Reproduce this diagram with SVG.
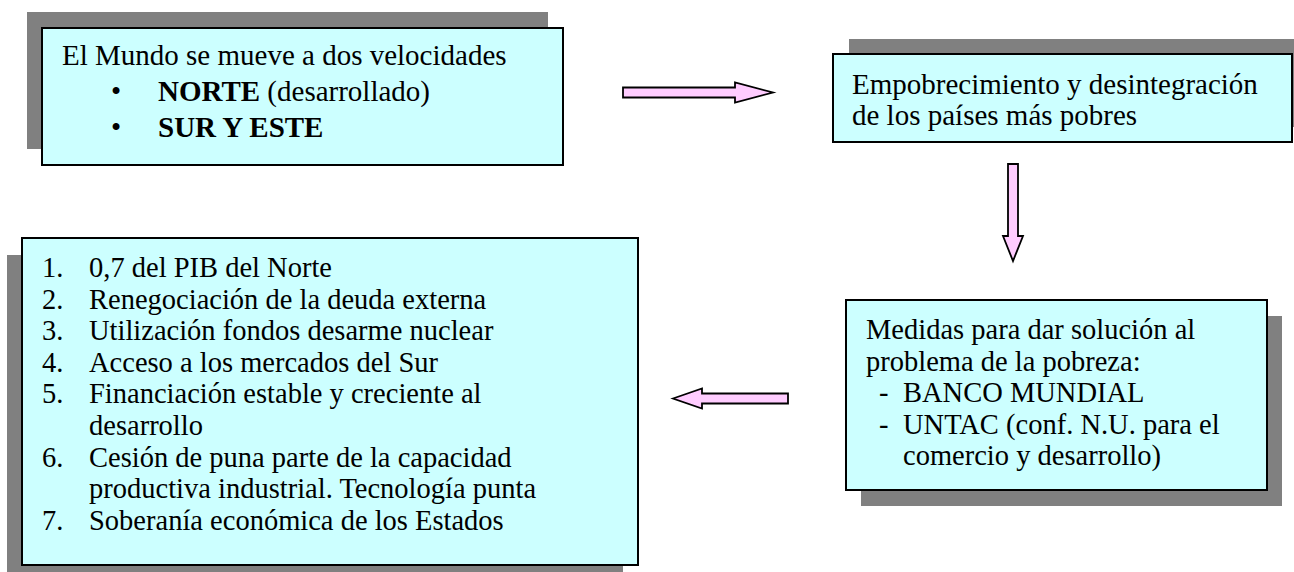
<svg xmlns="http://www.w3.org/2000/svg" width="1294" height="572" viewBox="0 0 1294 572">
<style>
.shadow{fill:#808080;stroke:none}
.box{fill:#CCFFFF;stroke:#000;stroke-width:2}
.arrow{fill:#FFCCFF;stroke:#000;stroke-width:1.8;stroke-linejoin:miter}
.a{font-family:"Liberation Serif","Times New Roman",serif;font-size:29px;fill:#000}
.b{font-family:"Liberation Serif","Times New Roman",serif;font-size:28.5px;fill:#000}
.bold{font-weight:bold}
</style>
<rect width="1294" height="572" fill="#fff"/>
<g id="node-mundo">
<rect class="shadow" x="27" y="12" width="521" height="137"/>
<rect class="box" x="42" y="28" width="521" height="137"/>
<text class="a" x="62" y="65">El Mundo se mueve a dos velocidades</text>
<text class="a" x="111" y="101">•</text>
<text class="a" x="158" y="101"><tspan class="bold">NORTE</tspan> (desarrollado)</text>
<text class="a" x="111" y="137">•</text>
<text class="a bold" x="158" y="137">SUR Y ESTE</text>
</g>
<g id="node-empobrecimiento">
<rect class="shadow" x="849" y="39" width="459" height="88"/>
<rect class="box" x="833" y="54" width="459" height="88"/>
<text class="a" x="852" y="94">Empobrecimiento y desintegración</text>
<text class="a" x="852" y="125">de los países más pobres</text>
</g>
<g id="node-medidas">
<rect class="shadow" x="861" y="316" width="421" height="190"/>
<rect class="box" x="846" y="300" width="421" height="190"/>
<text class="b" x="866" y="339">Medidas para dar solución al</text>
<text class="b" x="866" y="370.6">problema de la pobreza:</text>
<text class="b" x="879" y="402">-</text>
<text class="b" x="903" y="402">BANCO MUNDIAL</text>
<text class="b" x="879" y="433.6">-</text>
<text class="b" x="903" y="433.6">UNTAC (conf. N.U. para el</text>
<text class="b" x="903" y="465.2">comercio y desarrollo)</text>
</g>
<g id="node-soluciones">
<rect class="shadow" x="7" y="255" width="616" height="327"/>
<rect class="box" x="22" y="238" width="616" height="327"/>
<text class="b" x="42" y="277">1.</text>
<text class="b" x="89" y="277">0,7 del PIB del Norte</text>
<text class="b" x="42" y="308.6">2.</text>
<text class="b" x="89" y="308.6">Renegociación de la deuda externa</text>
<text class="b" x="42" y="340.2">3.</text>
<text class="b" x="89" y="340.2">Utilización fondos desarme nuclear</text>
<text class="b" x="42" y="371.8">4.</text>
<text class="b" x="89" y="371.8">Acceso a los mercados del Sur</text>
<text class="b" x="42" y="403.4">5.</text>
<text class="b" x="89" y="403.4">Financiación estable y creciente al</text>
<text class="b" x="89" y="435">desarrollo</text>
<text class="b" x="42" y="466.6">6.</text>
<text class="b" x="89" y="466.6">Cesión de puna parte de la capacidad</text>
<text class="b" x="89" y="498.2">productiva industrial. Tecnología punta</text>
<text class="b" x="42" y="529.8">7.</text>
<text class="b" x="89" y="529.8">Soberanía económica de los Estados</text>
</g>
<g id="connectors">
<polygon class="arrow" points="623,87.5 735,87.5 735,82.5 773,92.5 735,102.5 735,97.5 623,97.5"/>
<polygon class="arrow" points="1008,164 1018,164 1018,236 1023,236 1013,261 1003,236 1008,236"/>
<polygon class="arrow" points="673,398.5 702,388.5 702,393.5 788,393.5 788,403.5 702,403.5 702,408.5"/>
</g>
</svg>
